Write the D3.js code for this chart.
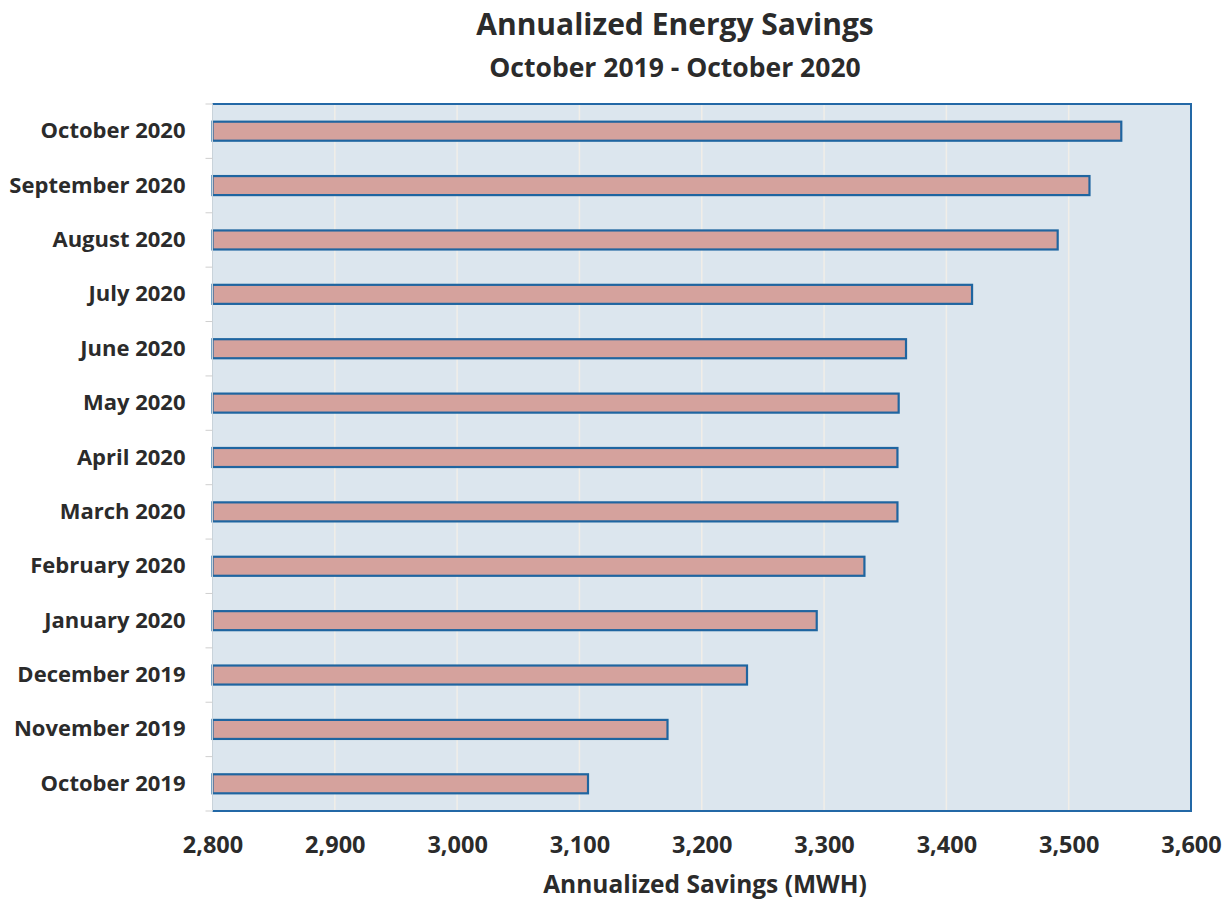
<!DOCTYPE html>
<html>
<head>
<meta charset="utf-8">
<script src="https://cdn.jsdelivr.net/npm/d3@7"></script>
<style>
  html, body { margin: 0; padding: 0; background: #ffffff; }
  svg { display: block; }
  text { font-family: "Open Sans", Lato, sans-serif; font-weight: 700; fill: #2b2b2b; }
</style>
</head>
<body>
<svg id="chart" width="1230" height="903"></svg>
<script>
// Months, top to bottom as drawn
const months = [
  "October 2020", "September 2020", "August 2020", "July 2020", "June 2020",
  "May 2020", "April 2020", "March 2020", "February 2020", "January 2020",
  "December 2019", "November 2019", "October 2019"
];
// Annualized savings, MWH
const savings = [3543, 3517, 3491, 3421, 3367, 3361, 3360, 3360, 3333, 3294, 3237, 3172, 3107];
const xTicks = [2800, 2900, 3000, 3100, 3200, 3300, 3400, 3500, 3600];

const title = "Annualized Energy Savings";
const subtitle = "October 2019 - October 2020";
const xTitle = "Annualized Savings (MWH)";

const margin = { left: 212.5, right: 1191, top: 104, bottom: 811 };

const svg = d3.select("#chart");

const x = d3.scaleLinear().domain([2800, 3600]).range([margin.left, margin.right]);
const y = d3.scaleBand().domain(months).range([margin.top, margin.bottom]).paddingInner(0.65).paddingOuter(0.325);

// plot background
svg.append("rect")
  .attr("x", margin.left).attr("y", margin.top)
  .attr("width", margin.right - margin.left).attr("height", margin.bottom - margin.top)
  .attr("fill", "#dce6ee");

// vertical gridlines
svg.append("g").selectAll("line")
  .data(xTicks.slice(1, -1))
  .join("line")
  .attr("x1", d => x(d)).attr("x2", d => x(d))
  .attr("y1", margin.top).attr("y2", margin.bottom)
  .attr("stroke", "#f1eee8").attr("stroke-width", 1.5);

// bars
svg.append("g").selectAll("rect")
  .data(months.map((m, i) => ({ m, v: savings[i] })))
  .join("rect")
  .attr("x", x(2800))
  .attr("y", d => y(d.m))
  .attr("width", d => x(d.v) - x(2800))
  .attr("height", y.bandwidth())
  .attr("fill", "#d5a29d")
  .attr("stroke", "#1f65a0")
  .attr("stroke-width", 2.2);

// frame: blue top, right and bottom edges
const frame = svg.append("g").attr("fill", "none").attr("stroke", "#2368a6").attr("stroke-width", 2);
frame.append("path")
  .attr("d", `M${margin.left},${margin.top}H${margin.right}V${margin.bottom}H${margin.left}`);
frame.append("line")
  .attr("x1", margin.left).attr("x2", margin.left)
  .attr("y1", margin.top).attr("y2", margin.bottom)
  .attr("stroke", "#c9d3da").attr("stroke-width", 1);

// y axis: category labels with faint ticks between bands
const yAxis = d3.axisLeft(y).tickSize(0).tickPadding(27);
const yg = svg.append("g").attr("transform", `translate(${margin.left},0)`).call(yAxis);
yg.select(".domain").remove();
yg.selectAll("text").style("font-size", "22px").style("font-family", "'Open Sans', sans-serif")
  .style("font-weight", "700").attr("fill", "#2b2b2b");

const step = y.step();
svg.append("g").selectAll("line")
  .data(d3.range(months.length + 1))
  .join("line")
  .attr("x1", margin.left - 7).attr("x2", margin.left)
  .attr("y1", i => margin.top + i * step).attr("y2", i => margin.top + i * step)
  .attr("stroke", "#cfcfcf").attr("stroke-width", 1);

// x axis
const xAxis = d3.axisBottom(x).tickValues(xTicks).tickSize(0).tickPadding(25).tickFormat(d3.format(","));
const xg = svg.append("g").attr("transform", `translate(0,${margin.bottom})`).call(xAxis);
xg.select(".domain").remove();
xg.selectAll("text").style("font-size", "23.5px").style("font-family", "'Open Sans', sans-serif")
  .style("font-weight", "700").attr("fill", "#2b2b2b");

// titles
svg.append("text").attr("x", 675).attr("y", 35).attr("text-anchor", "middle")
  .style("font-size", "30px").text(title);
svg.append("text").attr("x", 675).attr("y", 77).attr("text-anchor", "middle")
  .style("font-size", "26.5px").text(subtitle);
svg.append("text").attr("x", 705).attr("y", 893).attr("text-anchor", "middle")
  .style("font-size", "24.5px").text(xTitle);
</script>
</body>
</html>
